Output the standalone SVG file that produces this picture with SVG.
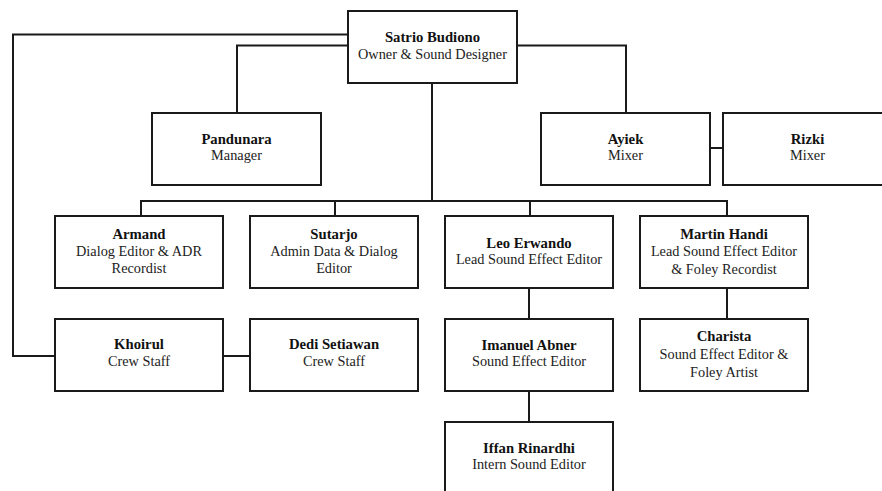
<svg xmlns="http://www.w3.org/2000/svg" width="882" height="491" viewBox="0 0 882 491">
<style>
.box{fill:#fff;stroke:#1a1a1a;stroke-width:2}
.ln{fill:none;stroke:#1a1a1a;stroke-width:2}
text{font-family:"Liberation Serif","Times New Roman",serif;text-anchor:middle;fill:#111}
.n{font-weight:bold;font-size:14.7px}
.r{font-size:14.3px;fill:#222}
</style>
<rect width="882" height="491" fill="#fff"/>
<g id="connectors">
<polyline class="ln" points="348,34.5 13,34.5 13,356 55,356"/>
<polyline class="ln" points="348,45.5 237,45.5 237,113"/>
<polyline class="ln" points="517,45.5 626,45.5 626,113"/>
<line class="ln" x1="710" y1="148" x2="723" y2="148"/>
<line class="ln" x1="432" y1="83" x2="432" y2="201"/>
<line class="ln" x1="140" y1="201" x2="728" y2="201"/>
<line class="ln" x1="141" y1="201" x2="141" y2="216"/>
<line class="ln" x1="335" y1="201" x2="335" y2="216"/>
<line class="ln" x1="530" y1="201" x2="530" y2="216"/>
<line class="ln" x1="727" y1="201" x2="727" y2="216"/>
<line class="ln" x1="529" y1="288" x2="529" y2="319"/>
<line class="ln" x1="529" y1="391" x2="529" y2="422"/>
<line class="ln" x1="727" y1="288" x2="727" y2="319"/>
<line class="ln" x1="223" y1="356" x2="250" y2="356"/>
</g>
<g id="satrio"><rect class="box" x="348" y="11" width="169" height="72"/><text class="n" x="432.5" y="41.5">Satrio Budiono</text><text class="r" x="432.5" y="58.5">Owner &amp; Sound Designer</text></g>
<g id="pandunara"><rect class="box" x="152" y="113" width="169" height="72"/><text class="n" x="236.5" y="143.5">Pandunara</text><text class="r" x="236.5" y="160">Manager</text></g>
<g id="ayiek"><rect class="box" x="541" y="113" width="169" height="72"/><text class="n" x="625.5" y="143.5">Ayiek</text><text class="r" x="625.5" y="160">Mixer</text></g>
<g id="rizki"><rect class="box" x="723" y="113" width="169" height="72"/><text class="n" x="807.5" y="143.5">Rizki</text><text class="r" x="807.5" y="160">Mixer</text></g>
<g id="armand"><rect class="box" x="55" y="216" width="168" height="72"/><text class="n" x="139" y="238.5">Armand</text><text class="r" x="139" y="255.5">Dialog Editor &amp; ADR</text><text class="r" x="139" y="273">Recordist</text></g>
<g id="sutarjo"><rect class="box" x="250" y="216" width="168" height="72"/><text class="n" x="334" y="238.5">Sutarjo</text><text class="r" x="334" y="255.5">Admin Data &amp; Dialog</text><text class="r" x="334" y="273">Editor</text></g>
<g id="leo"><rect class="box" x="445" y="216" width="168" height="72"/><text class="n" x="529" y="247.5">Leo Erwando</text><text class="r" x="529" y="263.5">Lead Sound Effect Editor</text></g>
<g id="martin"><rect class="box" x="640" y="216" width="168" height="72"/><text class="n" x="724" y="239">Martin Handi</text><text class="r" x="724" y="256">Lead Sound Effect Editor</text><text class="r" x="724" y="273.5">&amp; Foley Recordist</text></g>
<g id="khoirul"><rect class="box" x="55" y="319" width="168" height="72"/><text class="n" x="139" y="348.5">Khoirul</text><text class="r" x="139" y="366">Crew Staff</text></g>
<g id="dedi"><rect class="box" x="250" y="319" width="168" height="72"/><text class="n" x="334" y="348.5">Dedi Setiawan</text><text class="r" x="334" y="366">Crew Staff</text></g>
<g id="imanuel"><rect class="box" x="445" y="319" width="168" height="72"/><text class="n" x="529" y="349.5">Imanuel Abner</text><text class="r" x="529" y="366">Sound Effect Editor</text></g>
<g id="charista"><rect class="box" x="640" y="319" width="168" height="72"/><text class="n" x="724" y="341">Charista</text><text class="r" x="724" y="358.5">Sound Effect Editor &amp;</text><text class="r" x="724" y="376.5">Foley Artist</text></g>
<g id="iffan"><rect class="box" x="445" y="422" width="168" height="74"/><text class="n" x="529" y="452.5">Iffan Rinardhi</text><text class="r" x="529" y="468.5">Intern Sound Editor</text></g>
</svg>
